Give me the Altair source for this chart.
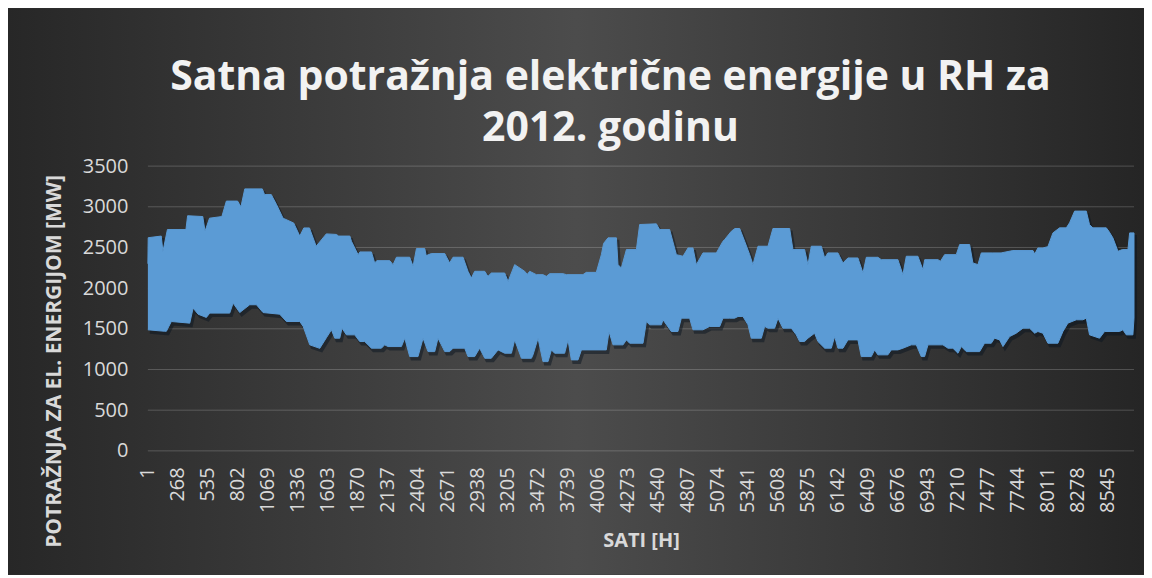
import altair as alt
import pandas as pd

# ---- data (hour -> MW) ----
UPPER_H = [1, 4, 120, 135, 175, 340, 355, 490, 510, 550, 660, 700, 800, 830, 864, 1020, 1040, 1100,
           1146, 1205, 1300, 1354, 1390, 1440, 1500, 1590, 1680, 1700, 1800, 1814, 1873, 1890, 1992,
           2021, 2040, 2155, 2185, 2215, 2333, 2363, 2393, 2467, 2480, 2526, 2645, 2689, 2719, 2808,
           2852, 2882, 2912, 3001, 3030, 3060, 3179, 3209, 3268, 3357, 3380, 3402, 3461, 3520, 3550,
           3580, 3698, 3728, 3876, 3906, 3995, 4040, 4060, 4099, 4174, 4188, 4218, 4263, 4352, 4381,
           4530, 4559, 4648, 4708, 4767, 4812, 4856, 4886, 4945, 5064, 5123, 5138, 5198, 5230, 5272,
           5316, 5361, 5390, 5435, 5524, 5568, 5717, 5746, 5850, 5880, 5910, 5999, 6029, 6058, 6147,
           6192, 6236, 6325, 6370, 6400, 6503, 6533, 6681, 6726, 6756, 6859, 6904, 6920, 7038, 7060,
           7097, 7201, 7231, 7320, 7349, 7394, 7424, 7527, 7600, 7705, 7884, 7900, 7928, 7973, 8017,
           8062, 8121, 8181, 8210, 8255, 8359, 8388, 8418, 8537, 8560, 8596, 8641, 8680, 8730, 8745,
           8784]
UPPER_MW = [2300, 2620, 2640, 2450, 2720, 2720, 2890, 2880, 2700, 2860, 2880, 3070, 3070, 3000, 3220,
            3220, 3150, 3150, 3030, 2860, 2800, 2640, 2740, 2740, 2515, 2667, 2660, 2640, 2640, 2577,
            2412, 2445, 2445, 2310, 2338, 2338, 2289, 2380, 2380, 2268, 2486, 2486, 2400, 2425, 2425,
            2310, 2380, 2380, 2207, 2125, 2207, 2207, 2145, 2186, 2186, 2083, 2289, 2207, 2170, 2207,
            2166, 2166, 2145, 2178, 2178, 2166, 2166, 2194, 2194, 2412, 2550, 2618, 2618, 2289, 2248,
            2474, 2474, 2782, 2790, 2720, 2720, 2412, 2392, 2494, 2494, 2289, 2433, 2433, 2577, 2597,
            2700, 2733, 2733, 2577, 2412, 2289, 2515, 2515, 2733, 2733, 2474, 2474, 2289, 2515, 2515,
            2371, 2433, 2433, 2310, 2371, 2371, 2186, 2379, 2379, 2350, 2350, 2166, 2392, 2392, 2227,
            2350, 2350, 2330, 2412, 2412, 2536, 2536, 2310, 2289, 2433, 2433, 2433, 2462, 2462, 2420,
            2494, 2494, 2510, 2679, 2741, 2741, 2803, 2947, 2947, 2780, 2741, 2741, 2700, 2618, 2453,
            2474, 2474, 2679, 2679]

LOWER_H = [1, 150, 166, 210, 374, 404, 448, 522, 552, 730, 760, 819, 908, 968, 1027, 1175, 1235, 1354,
           1384, 1443, 1532, 1591, 1636, 1665, 1710, 1730, 1769, 1843, 1888, 1932, 1962, 1992, 2081,
           2110, 2140, 2259, 2289, 2333, 2407, 2452, 2496, 2556, 2585, 2645, 2689, 2719, 2823, 2852,
           2912, 2956, 3001, 3060, 3120, 3179, 3239, 3268, 3328, 3417, 3431, 3476, 3520, 3565, 3595,
           3624, 3713, 3743, 3773, 3832, 3862, 4084, 4108, 4144, 4233, 4263, 4292, 4411, 4441, 4470,
           4574, 4589, 4663, 4722, 4752, 4826, 4856, 4945, 5004, 5094, 5123, 5183, 5227, 5257, 5301,
           5346, 5375, 5465, 5494, 5524, 5583, 5613, 5657, 5732, 5776, 5806, 5850, 5880, 5939, 5969,
           6029, 6088, 6118, 6147, 6192, 6236, 6325, 6355, 6444, 6474, 6503, 6592, 6622, 6681, 6726,
           6800, 6845, 6889, 6919, 6949, 7082, 7127, 7171, 7216, 7246, 7290, 7409, 7453, 7513, 7542,
           7587, 7617, 7676, 7735, 7795, 7854, 7899, 7928, 7973, 8017, 8106, 8151, 8195, 8270, 8329,
           8359, 8388, 8477, 8522, 8655, 8685, 8715, 8774, 8784]
LOWER_MW = [1488, 1470, 1470, 1590, 1570, 1755, 1680, 1640, 1693, 1693, 1816, 1700, 1796, 1796, 1700,
            1680, 1590, 1590, 1530, 1303, 1260, 1390, 1488, 1385, 1385, 1508, 1426, 1426, 1344, 1344,
            1303, 1262, 1262, 1303, 1282, 1282, 1385, 1159, 1159, 1385, 1220, 1220, 1385, 1220, 1220,
            1262, 1262, 1159, 1159, 1262, 1138, 1138, 1241, 1200, 1200, 1364, 1138, 1138, 1180, 1385,
            1097, 1097, 1241, 1200, 1200, 1364, 1118, 1118, 1241, 1241, 1467, 1303, 1303, 1364, 1323,
            1323, 1590, 1549, 1549, 1611, 1467, 1467, 1631, 1631, 1488, 1488, 1529, 1529, 1631, 1631,
            1631, 1652, 1652, 1549, 1385, 1385, 1529, 1508, 1508, 1631, 1508, 1508, 1426, 1344, 1344,
            1385, 1446, 1344, 1262, 1262, 1405, 1262, 1262, 1364, 1364, 1159, 1159, 1241, 1180, 1180,
            1241, 1241, 1262, 1303, 1303, 1159, 1159, 1303, 1303, 1262, 1262, 1200, 1282, 1220, 1220,
            1323, 1323, 1385, 1364, 1282, 1405, 1446, 1508, 1508, 1446, 1467, 1446, 1323, 1323, 1467,
            1570, 1611, 1611, 1631, 1426, 1385, 1467, 1467, 1488, 1426, 1426, 1631]

X_TICKS = [1, 268, 535, 802, 1069, 1336, 1603, 1870, 2137, 2404, 2671, 2938, 3205, 3472, 3739, 4006,
           4273, 4540, 4807, 5074, 5341, 5608, 5875, 6142, 6409, 6676, 6943, 7210, 7477, 7744, 8011,
           8278, 8545]
Y_TICKS = [0, 500, 1000, 1500, 2000, 2500, 3000, 3500]

TITLE = ["Satna potražnja električne energije u RH za", "2012. godinu"]
X_TITLE = "SATI [H]"
Y_TITLE = "POTRAŽNJA ZA EL. ENERGIJOM [MW]"

# ---- polygon table: upper envelope left->right, then lower envelope right->left ----
hours = UPPER_H + LOWER_H[::-1]
mws = UPPER_MW + LOWER_MW[::-1]
poly = pd.DataFrame({"hour": hours, "mw": mws, "ord": list(range(len(hours)))})
grid = pd.DataFrame({"v": Y_TICKS})
one = pd.DataFrame({"k": [0]})

W, H = 987, 285
PAD = {"left": 140, "top": 158, "right": 10, "bottom": 124}
FONT = "Open Sans"
LBL = "#d9d9d9"

xscale = alt.Scale(domain=[1, 8784], nice=False, zero=False)
yscale = alt.Scale(domain=[0, 3500], nice=False)

xaxis = alt.Axis(values=X_TICKS, format="d", labelAngle=-90, title=X_TITLE, grid=False,
                 ticks=False, domain=False, labelPadding=16, labelFlush=False,
                 labelOverlap=False, labelFont=FONT, labelFontSize=20, labelColor=LBL,
                 titleFont=FONT, titleFontSize=20, titleFontWeight="bold",
                 titleColor=LBL, titleY=90, titleBaseline="middle", zindex=2)
yaxis = alt.Axis(values=Y_TICKS, format="d", title=Y_TITLE, grid=False, ticks=False,
                 domain=False, labelPadding=20, labelFont=FONT, labelFontSize=20,
                 labelColor=LBL, titleFont=FONT, titleFontSize=21,
                 titleFontWeight="bold", titleColor=LBL, titleX=-93, titleY=195,
                 titleBaseline="middle", titleAngle=270, zindex=2)

bg = alt.Chart(one).mark_rect(
    fill={"gradient": "linear", "x1": 0, "y1": 0.5, "x2": 1, "y2": 0.5,
          "stops": [{"offset": 0, "color": "#272727"},
                    {"offset": 0.5, "color": "#4c4c4c"},
                    {"offset": 1, "color": "#252525"}]}
).encode(
    x=alt.value(-PAD["left"]), x2=alt.value(W + PAD["right"]),
    y=alt.value(-PAD["top"]), y2=alt.value(H + PAD["bottom"]),
)

title_txt = alt.Chart(one).mark_text(
    font=FONT, fontSize=41, fontWeight="bold", color="#f2f2f2", align="center",
    baseline="middle", lineHeight=51
).encode(x=alt.value(463), y=alt.value(-88), text=alt.value(TITLE))

rules = alt.Chart(grid).mark_rule(color="#ffffff", opacity=0.2, strokeWidth=1).encode(
    y=alt.Y("v:Q", scale=yscale, axis=yaxis),
)

shadow = alt.Chart(poly).mark_line(
    fill="#0b1622", stroke="#0b1622", strokeWidth=2, opacity=0.5, xOffset=2, yOffset=3
).encode(
    x=alt.X("hour:Q", scale=xscale, axis=xaxis),
    y=alt.Y("mw:Q", scale=yscale, axis=yaxis),
    order="ord:Q",
)

band = alt.Chart(poly).mark_line(
    fill="#5b9bd5", stroke="#5b9bd5", strokeWidth=1
).encode(
    x=alt.X("hour:Q", scale=xscale, axis=xaxis),
    y=alt.Y("mw:Q", scale=yscale, axis=yaxis),
    order="ord:Q",
)

chart = alt.layer(bg, title_txt, rules, shadow, band).properties(
    width=W, height=H,
    padding=PAD,
    autosize=alt.AutoSizeParams(type="none"),
    background="#333333",
).configure_view(stroke=None).configure_axis(labelOverlap=False)

chart.save("out.html", embed_options={"renderer": "svg", "actions": False})
